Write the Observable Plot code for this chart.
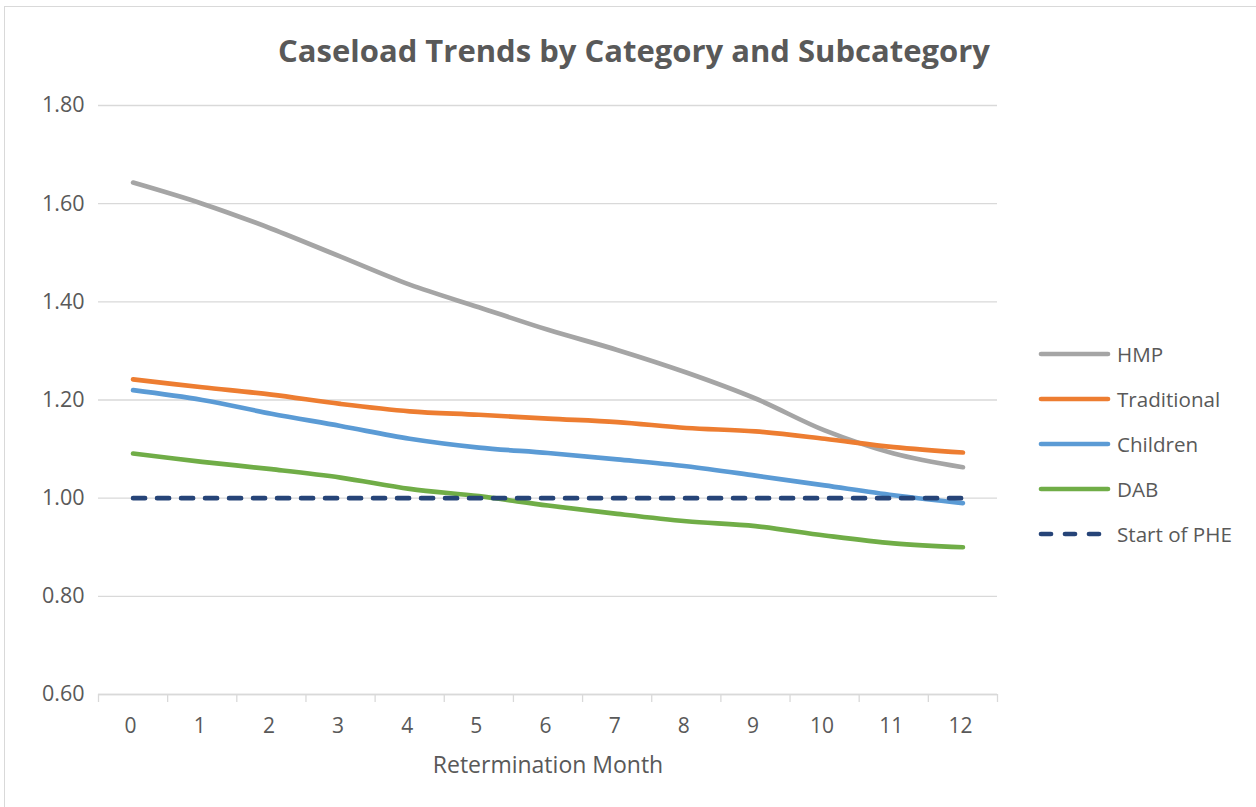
<!DOCTYPE html>
<html>
<head>
<meta charset="utf-8">
<script src="https://cdn.jsdelivr.net/npm/d3@7"></script>
<script src="https://cdn.jsdelivr.net/npm/@observablehq/plot@0.6"></script>
<style>
  html, body { margin: 0; padding: 0; background: #fff; }
  #wrap { position: relative; width: 1256px; height: 807px; overflow: hidden; background: #fff; font-family: "Open Sans", sans-serif; }
  #frame { position: absolute; left: 4px; top: 6px; width: 1300px; height: 900px; border: 1px solid #d9d9d9; box-sizing: border-box; }
  #title { position: absolute; left: 0; width: 1268px; top: 29px; text-align: center; font-size: 31px; font-weight: 700; color: #595959; line-height: 42px; }
  #chart { position: absolute; left: 0; top: 0; }
  #legend { position: absolute; left: 1038px; top: 331px; color: #595959; font-size: 20.6px; }
  .row { display: flex; align-items: center; height: 45px; }
  .row svg { margin-right: 5px; }
</style>
</head>
<body>
<div id="wrap">
  <div id="frame"></div>
  <div id="chart"></div>
  <div id="title">Caseload Trends by Category and Subcategory</div>
  <div id="legend"></div>
</div>
<script>
// ---- data ----
const months = [0, 1, 2, 3, 4, 5, 6, 7, 8, 9, 10, 11, 12];
const seriesNames = ["HMP", "Traditional", "Children", "DAB", "Start of PHE"];
const hmp         = [1.643, 1.600, 1.549, 1.492, 1.435, 1.389, 1.343, 1.302, 1.256, 1.203, 1.138, 1.091, 1.063];
const traditional = [1.242, 1.226, 1.211, 1.192, 1.177, 1.170, 1.162, 1.155, 1.143, 1.136, 1.121, 1.104, 1.093];
const children    = [1.220, 1.200, 1.172, 1.147, 1.121, 1.103, 1.092, 1.079, 1.065, 1.046, 1.026, 1.006, 0.990];
const dab         = [1.091, 1.074, 1.059, 1.042, 1.019, 1.004, 0.985, 0.968, 0.953, 0.943, 0.924, 0.908, 0.900];
const phe         = [1.00, 1.00, 1.00, 1.00, 1.00, 1.00, 1.00, 1.00, 1.00, 1.00, 1.00, 1.00, 1.00];
const yTicks = [0.60, 0.80, 1.00, 1.20, 1.40, 1.60, 1.80];
const xTitle = "Retermination Month";

// ---- build table ----
const valuesBySeries = [hmp, traditional, children, dab, phe];
const rows = [];
seriesNames.forEach((name, si) => {
  months.forEach((m, i) => rows.push({series: name, month: m, value: valuesBySeries[si][i]}));
});
const solidRows = rows.filter(d => d.series !== "Start of PHE");
const dashRows = rows.filter(d => d.series === "Start of PHE");
const colors = ["#a5a5a5", "#ed7d31", "#5b9bd5", "#70ad47", "#264478"];
const bounds = [...months.map(m => m - 0.5), months[months.length - 1] + 0.5];

const textColor = "#595959";
const gridColor = "#d9d9d9";

const chart = Plot.plot({
  width: 1256,
  height: 807,
  marginLeft: 98,
  marginRight: 259,
  marginTop: 105,
  marginBottom: 113,
  style: {background: "transparent", fontFamily: "'Open Sans', sans-serif", color: textColor, overflow: "visible"},
  x: {type: "linear", domain: [bounds[0], bounds[bounds.length - 1]]},
  y: {domain: [yTicks[0], yTicks[yTicks.length - 1]]},
  color: {domain: seriesNames, range: colors},
  marks: [
    Plot.gridY({ticks: yTicks, stroke: gridColor, strokeOpacity: 1, strokeWidth: 1.3}),
    Plot.ruleY([yTicks[0]], {stroke: gridColor, strokeWidth: 1.3}),
    Plot.axisY({ticks: yTicks, tickFormat: d => d.toFixed(2), tickSize: 0, tickPadding: 14, fontSize: 21.5, fill: textColor, label: null}),
    Plot.axisX({ticks: bounds, tickFormat: () => "", tickSize: 8, stroke: gridColor, strokeWidth: 1.3, label: null}),
    Plot.axisX({ticks: months, tickFormat: d => String(d), tickSize: 0, tickPadding: 24, dx: -2.5, fontSize: 21, fill: textColor, label: null}),
    Plot.text([xTitle], {frameAnchor: "bottom", text: d => d, dy: 71, lineAnchor: "middle", fontSize: 23, fill: textColor}),
    Plot.line(solidRows, {x: "month", y: "value", z: "series", stroke: "series", strokeWidth: 4.7, strokeLinecap: "round", strokeLinejoin: "round", curve: "catmull-rom"}),
    Plot.line(dashRows, {x: "month", y: "value", z: "series", stroke: "series", strokeWidth: 4.7, strokeLinecap: "round", strokeDasharray: "12,12"})
  ]
});
document.getElementById("chart").appendChild(chart);

// ---- legend ----
const legend = d3.select("#legend");
seriesNames.forEach((name, i) => {
  const row = legend.append("div").attr("class", "row");
  const svg = row.append("svg").attr("width", 74).attr("height", 12);
  svg.append("line")
    .attr("x1", 3).attr("x2", 70).attr("y1", 6).attr("y2", 6)
    .attr("stroke", colors[i]).attr("stroke-width", 4.7).attr("stroke-linecap", "round")
    .attr("stroke-dasharray", name === "Start of PHE" ? "10,14" : null);
  row.append("span").text(name);
});
</script>
</body>
</html>
